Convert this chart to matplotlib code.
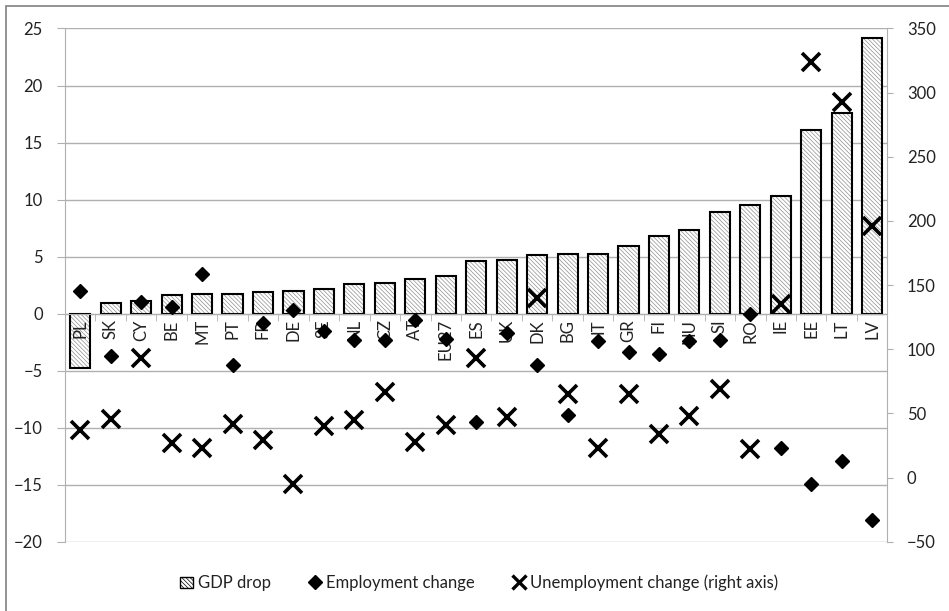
import matplotlib.pyplot as plt
import matplotlib.patches as mpatches
from matplotlib.lines import Line2D
import numpy as np

plt.rcParams['font.family'] = ['Lato', 'DejaVu Sans']
plt.rcParams['hatch.linewidth'] = 0.5

countries = ['PL', 'SK', 'CY', 'BE', 'MT', 'PT', 'FR', 'DE', 'SE', 'NL', 'CZ', 'AT', 'EU27',
             'ES', 'UK', 'DK', 'BG', 'IT', 'GR', 'FI', 'HU', 'SI', 'RO', 'IE', 'EE', 'LT', 'LV']
gdp_drop = [-4.8, 0.9, 1.1, 1.6, 1.7, 1.7, 1.9, 2.0, 2.2, 2.6, 2.7, 3.0, 3.3,
            4.6, 4.7, 5.1, 5.2, 5.2, 5.9, 6.8, 7.3, 8.9, 9.5, 10.3, 16.1, 17.6, 24.2]
employment = [2.0, -3.7, 1.0, 0.6, 3.5, -4.5, -0.8, 0.3, -1.5, -2.3, -2.3, -0.6, -2.2,
              -9.5, -1.7, -4.5, -8.9, -2.4, -3.4, -3.5, -2.4, -2.3, 0.0, -11.8, -14.9, -12.9, -18.1]
unemployment = [37, 46, 93, 27, 23, 42, 29, -5, 40, 45, 67, 28, 41,
                93, 47, 140, 65, 23, 65, 34, 48, 69, 22, 135, 324, 293, 196]

txt = '#222222'
grid = '#b0b0b0'
hatch = '\\\\\\\\\\\\\\\\'

fig = plt.figure(figsize=(9.49, 6.11), dpi=100)
ax = fig.add_axes([0.0685, 0.1133, 0.8666, 0.8401])
x = np.arange(len(countries))

# gridlines by hand so they stay under the bars while tick labels go on top
for v in range(-20, 26, 5):
    ax.axhline(v, color=grid, linewidth=1, zorder=0.5)

# hatched fill, then black outline
ax.bar(x, gdp_drop, width=0.66, color='white', edgecolor='#909090', hatch=hatch,
       linewidth=0, zorder=1)
ax.bar(x, gdp_drop, width=0.66, fill=False, edgecolor='black', linewidth=1.5, zorder=1.5)
ax.plot(x, employment, linestyle='none', marker='D', markersize=7.5, color='black', zorder=4)

ax.set_xlim(-0.5, len(countries) - 0.5)
ax.set_ylim(-20, 25)
ax.set_yticks(range(-20, 26, 5))

for s in ['top', 'right']:
    ax.spines[s].set_visible(False)
ax.spines['left'].set_color(grid)
ax.spines['bottom'].set_color(grid)
ax.spines['bottom'].set_position(('data', 0))

ax.set_xticks(x)
ax.set_xticklabels(countries, rotation=90, fontsize=12, color=txt)
ax.tick_params(axis='x', which='major', length=0, pad=4)
ax.set_xticks(np.arange(-0.5, len(countries), 1), minor=True)
ax.tick_params(axis='x', which='minor', length=5, color=grid, direction='out')
ax.tick_params(axis='y', length=6, color=grid, labelsize=12, labelcolor=txt, pad=10)

ax2 = ax.twinx()
ax2.plot(x, unemployment, linestyle='none', marker='x', markersize=13, markeredgewidth=2.6,
         color='black', zorder=5)
ax2.set_ylim(-50, 350)
ax2.set_yticks(range(-50, 351, 50))
ax2.tick_params(axis='y', length=4, color=grid, labelsize=12, labelcolor=txt, pad=10)
for s in ['top', 'left', 'bottom']:
    ax2.spines[s].set_visible(False)
ax2.spines['right'].set_color(grid)

# frame around the whole chart
fig.patches.append(mpatches.Rectangle((6 / 949, -0.1), 1.2, 1.1 - 6 / 611, transform=fig.transFigure,
                                      fill=False, edgecolor='#808080', linewidth=1.2))

handles = [mpatches.Patch(facecolor='white', edgecolor='black', hatch=hatch, linewidth=1),
           Line2D([], [], linestyle='none', marker='D', markersize=7, color='black'),
           Line2D([], [], linestyle='none', marker='x', markersize=10, markeredgewidth=2.4, color='black')]
fig.legend(handles, ['GDP drop', 'Employment change', 'Unemployment change (right axis)'],
           loc='center', bbox_to_anchor=(0.505, 0.046), ncol=3, frameon=False, fontsize=12,
           handlelength=0.8, handletextpad=0.3, columnspacing=2.2, labelcolor=txt)

fig.savefig('out.png', dpi=100)
